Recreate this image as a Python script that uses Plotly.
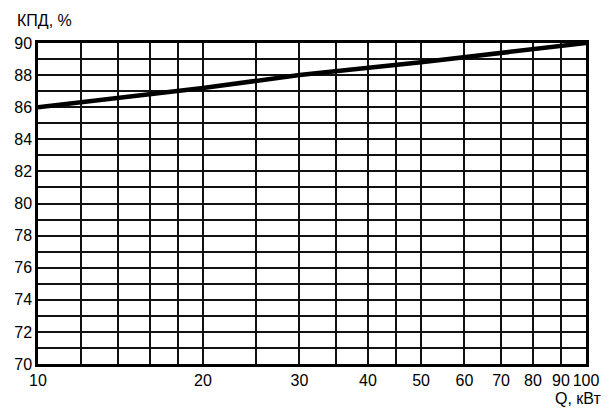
import plotly.graph_objects as go

# Data
q_kw = [10, 20, 30, 50, 100]
kpd = [86.0, 87.2, 88.0, 88.8, 90.0]

x_grid = [10, 12, 14, 16, 18, 20, 25, 30, 35, 40, 45, 50, 60, 70, 80, 90, 100]
x_labels = ['10', '', '', '', '', '20', '', '30', '', '40', '', '50', '60', '70', '80', '90', '100']
y_grid = list(range(70, 91))
y_labels = [str(v) if v % 2 == 0 else '' for v in y_grid]

# page body has an 8px default margin
W, H = 606, 407
ml, mr, mt, mb = 30, 28, 35, 51
PW, PH = W - ml - mr, H - mt - mb

fig = go.Figure()
fig.add_trace(go.Scatter(x=q_kw, y=kpd, mode='lines',
                         line=dict(color='black', width=4.5), showlegend=False,
                         hoverinfo='skip'))

font = dict(family='Liberation Sans, Arial, sans-serif', size=16, color='black')

fig.update_layout(
    width=W, height=H,
    margin=dict(l=ml, r=mr, t=mt, b=mb, autoexpand=False),
    paper_bgcolor='white', plot_bgcolor='white',
    font=font,
    xaxis=dict(type='log', range=[1, 2], tickmode='array', tickvals=x_grid, ticktext=x_labels,
               showgrid=True, gridcolor='#111', gridwidth=2,
               showline=True, linecolor='black', linewidth=2.5, mirror=True,
               ticks='', ticklen=0, zeroline=False, tickfont=font, automargin=False),
    yaxis=dict(range=[70, 90], tickmode='array', tickvals=y_grid, ticktext=y_labels,
               showgrid=True, gridcolor='#111', gridwidth=2,
               showline=True, linecolor='black', linewidth=2.5, mirror=True,
               ticks='', ticklen=0, zeroline=False, tickfont=font, automargin=False),
    annotations=[
        dict(text='КПД, %', xref='paper', yref='paper', x=-23 / PW,
             y=1 + 23 / PH, xanchor='left', yanchor='middle', showarrow=False, font=font),
        dict(text='Q, кВт', xref='paper', yref='paper', x=1 + 17 / PW,
             y=-34 / PH, xanchor='right', yanchor='middle', showarrow=False, font=font),
    ],
)

fig.write_html('out.html')
